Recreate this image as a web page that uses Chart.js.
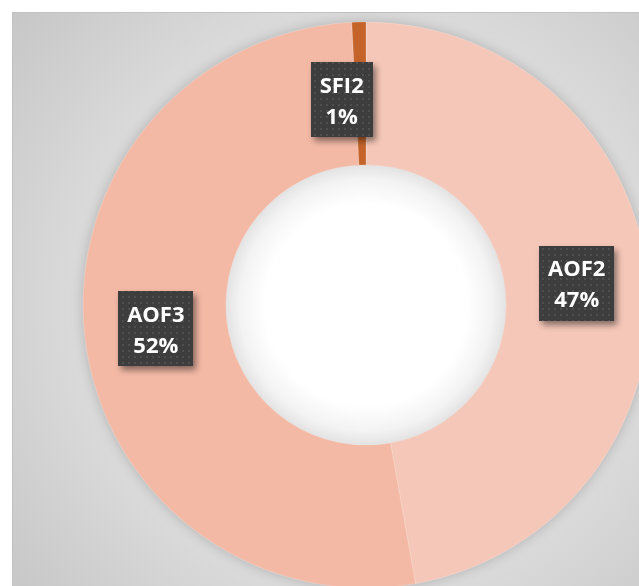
<!DOCTYPE html>
<html>
<head>
<meta charset="utf-8">
<script src="https://cdn.jsdelivr.net/npm/chart.js@4.4.1/dist/chart.umd.min.js"></script>
<style>
  html, body { margin: 0; padding: 0; background: #fff; overflow: hidden; }
  #wrap { width: 639px; height: 586px; position: relative; }
</style>
</head>
<body>
<div id="wrap"><canvas id="donut" width="639" height="586"></canvas></div>
<script>
// data (share of total, %)
const categories = ["AOF2", "AOF3", "SFI2"];
const shares = [47.2, 52.0, 0.8];
const sliceColors = ["#f5c7b8", "#f3b9a5", "#c4642a"];

// gray panel with radial shading, drawn behind everything
const panelBg = {
  id: "panelBg",
  beforeDraw(chart) {
    const ctx = chart.ctx;
    ctx.save();
    ctx.fillStyle = "#ffffff";
    ctx.fillRect(0, 0, chart.width, chart.height);
    const g = ctx.createRadialGradient(366, 305, 60, 366, 305, 480);
    g.addColorStop(0, "#e2e2e2");
    g.addColorStop(0.55, "#dadada");
    g.addColorStop(1, "#c4c4c4");
    ctx.fillStyle = g;
    ctx.fillRect(12, 12, chart.width - 12, chart.height - 12);
    ctx.strokeStyle = "#c2c2c2";
    ctx.lineWidth = 1;
    ctx.beginPath();
    ctx.moveTo(12.5, chart.height);
    ctx.lineTo(12.5, 12.5);
    ctx.lineTo(chart.width, 12.5);
    ctx.stroke();
    ctx.restore();
  },
  beforeDatasetsDraw(chart) {
    // soft halo around the ring
    const arc = chart.getDatasetMeta(0).data[0];
    if (!arc) return;
    const ctx = chart.ctx;
    ctx.save();
    ctx.shadowColor = "rgba(0,0,0,0.22)";
    ctx.shadowBlur = 14;
    ctx.fillStyle = sliceColors[1];
    ctx.beginPath();
    ctx.arc(arc.x, arc.y, arc.outerRadius - 1, 0, Math.PI * 2);
    ctx.fill();
    ctx.restore();
  }
};

// white hole with an inner glow + dark data label boxes
const holeAndLabels = {
  id: "holeAndLabels",
  afterDatasetsDraw(chart) {
    const ctx = chart.ctx;
    const meta = chart.getDatasetMeta(0);
    const a0 = meta.data[0];
    ctx.save();
    const r = a0.innerRadius;
    const hg = ctx.createRadialGradient(a0.x, a0.y, 0, a0.x, a0.y, r);
    hg.addColorStop(0, "#ffffff");
    hg.addColorStop(0.72, "#ffffff");
    hg.addColorStop(0.9, "#f3f3f3");
    hg.addColorStop(1, "#e3e3e3");
    ctx.fillStyle = hg;
    ctx.beginPath();
    ctx.arc(a0.x, a0.y, r, 0, Math.PI * 2);
    ctx.fill();

    // dotted fill for label boxes
    const tile = document.createElement("canvas");
    tile.width = 6; tile.height = 6;
    const tc = tile.getContext("2d");
    tc.fillStyle = "#3d3d3d";
    tc.fillRect(0, 0, 6, 6);
    tc.fillStyle = "#4f4f4f";
    tc.fillRect(2, 2, 2, 2);
    const pattern = ctx.createPattern(tile, "repeat");

    const total = shares.reduce((s, v) => s + v, 0);
    const nudge = { SFI2: [-19, 6], AOF2: [0, -3] };
    ctx.font = "bold 22px 'Open Sans', Lato, sans-serif";
    meta.data.forEach((arc, i) => {
      const pos = arc.tooltipPosition();
      const name = categories[i];
      const off = nudge[name] || [0, 0];
      const cx = pos.x + off[0];
      const cy = pos.y + off[1];
      const pct = Math.round(shares[i] / total * 100) + "%";
      const w = Math.max(ctx.measureText(name).width, ctx.measureText(pct).width) + 18;
      const h = 75;
      ctx.save();
      ctx.shadowColor = "rgba(0,0,0,0.45)";
      ctx.shadowBlur = 6;
      ctx.shadowOffsetX = 3;
      ctx.shadowOffsetY = 4;
      ctx.fillStyle = pattern;
      ctx.fillRect(Math.round(cx - w / 2), Math.round(cy - h / 2), Math.round(w), h);
      ctx.restore();
      ctx.fillStyle = "#ffffff";
      ctx.textAlign = "center";
      ctx.textBaseline = "alphabetic";
      ctx.fillText(name, cx, cy - 7);
      ctx.fillText(pct, cx, cy + 24);
    });
    ctx.restore();
  }
};

new Chart(document.getElementById("donut").getContext("2d"), {
  type: "doughnut",
  data: {
    labels: categories,
    datasets: [{
      data: shares,
      backgroundColor: sliceColors,
      borderColor: "rgba(255,255,255,0.2)",
      borderWidth: 1,
      radius: 283,
      cutout: "49.5%"
    }]
  },
  options: {
    responsive: false,
    animation: false,
    rotation: 0,
    layout: { padding: { left: 93, top: 24, right: 0, bottom: 0 } },
    plugins: {
      legend: { display: false },
      tooltip: { enabled: false }
    }
  },
  plugins: [panelBg, holeAndLabels]
});
</script>
</body>
</html>
